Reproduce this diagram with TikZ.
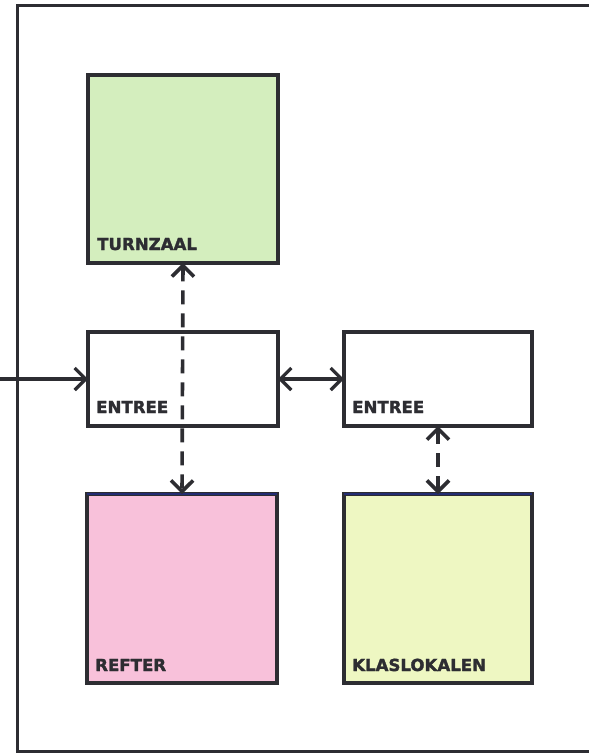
\documentclass[tikz,border=0pt]{standalone}
\usepackage{fontspec}
\setmainfont{DejaVu Sans}
\newfontfamily\heavyfont[FakeBold=1.8]{DejaVu Sans Bold}
\usetikzlibrary{arrows.meta,calc}
\definecolor{ink}{RGB}{45,45,50}
\definecolor{navy}{RGB}{35,45,115}
\definecolor{gymgreen}{RGB}{212,238,190}
\definecolor{refpink}{RGB}{248,193,218}
\definecolor{klasyellow}{RGB}{238,247,194}
\tikzset{
  room/.style={draw=ink, line width=3.4pt, anchor=north west, inner sep=0pt, outer sep=0pt},
  lbl/.style={font=\heavyfont\fontsize{16.6}{16.6}\selectfont, text=ink, inner sep=0pt, anchor=base west},
  arr/.style={draw=ink, line width=3.2pt, {Straight Barb[length=11pt,width=22pt]}-{Straight Barb[length=11pt,width=22pt]}},
  inarr/.style={draw=ink, line width=3.2pt, -{Straight Barb[length=11pt,width=22pt]}},
  dasharr/.style={arr, line width=3.6pt, dash pattern=on 14pt off 9pt},
  frame/.style={draw=ink, line width=3pt}
}
\begin{document}
\begin{tikzpicture}[x=1pt,y=1pt]
\useasboundingbox (0,0) rectangle (589,-753);
\fill[white] (0,0) rectangle (589,-753);
% frame
\coordinate (f1) at (595,-5);
\coordinate (f2) at (17,-5);
\coordinate (f3) at (17,-751);
\coordinate (f4) at (595,-751);
\draw[frame] (f1) -- (f2) -- (f3) -- (f4);
% rooms
\node[room, fill=gymgreen, minimum width=190pt, minimum height=188pt] (turn) at (88,-75) {};
\node[room, fill=white, minimum width=190pt, minimum height=94pt] (ent1) at (88,-332) {};
\node[room, fill=white, minimum width=188pt, minimum height=94pt] (ent2) at (344,-332) {};
\node[room, fill=refpink, minimum width=190pt, minimum height=189pt] (ref) at (87,-494) {};
\node[room, fill=klasyellow, minimum width=188pt, minimum height=189pt] (klas) at (344,-494) {};
\draw[navy, line width=2.4pt] (ref.north west) -- (ref.north east);
\draw[navy, line width=2.4pt] (klas.north west) -- (klas.north east);
% labels
\node[lbl] (turnL) at ([shift={(9pt,13pt)}]turn.south west) {TURNZAAL};
\node[lbl] (ent1L) at ([shift={(8pt,13pt)}]ent1.south west) {ENTREE};
\node[lbl] (ent2L) at ([shift={(8pt,13pt)}]ent2.south west) {ENTREE};
\node[lbl] (refL) at ([shift={(8pt,12pt)}]ref.south west) {REFTER};
\node[lbl] (klasL) at ([shift={(8pt,12pt)}]klas.south west) {KLASLOKALEN};
% connectors
\coordinate (in) at (0,-379);
\draw[inarr] (in) -- (ent1.west);
\draw[arr] (ent1.east) -- (ent2.west);
\draw[dasharr] (turn.south) -- (ref.north);
\draw[dasharr] (ent2.south) -- (klas.north);
\end{tikzpicture}
\end{document}
